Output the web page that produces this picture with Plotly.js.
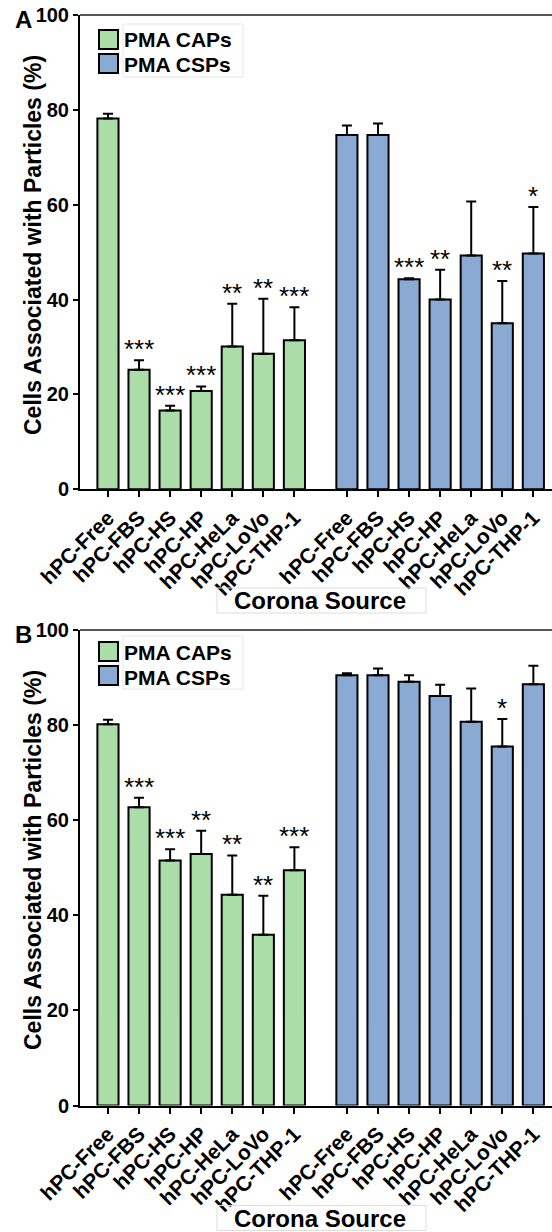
<!DOCTYPE html>
<html><head><meta charset="utf-8">
<script src="https://cdn.plot.ly/plotly-3.0.1.min.js"></script>
<style>html,body{margin:0;padding:0;background:#fff;overflow:hidden}</style>
</head><body><div id="chart" style="width:552px;height:1232px"></div>
<script>
// ---- data ----
const categories = ['hPC-Free','hPC-FBS','hPC-HS','hPC-HP','hPC-HeLa','hPC-LoVo','hPC-THP-1'];
const seriesNames = ['PMA CAPs','PMA CSPs'];
const yTicks = [0,20,40,60,80,100];

const A_caps     = [78.2, 25.2, 16.6, 20.7, 30.1, 28.6, 31.4];
const A_caps_err = [1.0, 2.0, 1.0, 1.0, 9.0, 11.6, 7.0];
const A_caps_sig = ['', '***', '***', '***', '**', '**', '***'];
const A_csps     = [74.7, 74.7, 44.3, 40.0, 49.3, 35.0, 49.7];
const A_csps_err = [2.0, 2.4, 0.2, 6.3, 11.4, 8.9, 9.8];
const A_csps_sig = ['', '', '***', '**', '', '**', '*'];

const B_caps     = [80.2, 62.7, 51.5, 52.9, 44.3, 35.9, 49.5];
const B_caps_err = [0.9, 2.0, 2.4, 4.9, 8.3, 8.2, 4.8];
const B_caps_sig = ['', '***', '***', '**', '**', '**', '***'];
const B_csps     = [90.5, 90.5, 89.1, 86.1, 80.7, 75.5, 88.6];
const B_csps_err = [0.4, 1.4, 1.4, 2.4, 7.0, 5.8, 3.9];
const B_csps_sig = ['', '', '', '', '', '*', ''];

// ---- layout helpers ----
const W = 552, H = 1232;
const px = x => x / W;
const py = y => 1 - y / H;
const FONT = 'Liberation Sans, Arial, Helvetica, sans-serif';
const GREEN = '#aadda8', BLUE = '#8aaad4';
const GAP = 1.69;
const greenX = categories.map((c, i) => i);
const blueX = categories.map((c, i) => i + categories.length - 1 + GAP);
const zeros = categories.map(() => 0);

const panels = [
  {letter: 'A', caps: A_caps, capsErr: A_caps_err, capsSig: A_caps_sig,
   csps: A_csps, cspsErr: A_csps_err, cspsSig: A_csps_sig, top: 15, bottom: 489.3,
   titleY: 245, sourceY: 600.5, legTop: 24},
  {letter: 'B', caps: B_caps, capsErr: B_caps_err, capsSig: B_caps_sig,
   csps: B_csps, cspsErr: B_csps_err, cspsSig: B_csps_sig, top: 630, bottom: 1105.5,
   titleY: 860, sourceY: 1218, legTop: 636}
];

const traces = [], annotations = [], shapes = [];
const layout = {
  width: W, height: H, margin: {l: 0, r: 0, t: 0, b: 0},
  paper_bgcolor: '#fff', plot_bgcolor: '#fff', showlegend: false,
  font: {family: FONT, color: '#000'}, bargap: 0
};

panels.forEach((p, k) => {
  const sfx = k === 0 ? '' : '2';
  const xa = 'x' + sfx, ya = 'y' + sfx;
  const errStyle = {type: 'data', symmetric: false, color: '#000', thickness: 2, width: 5};
  traces.push({type: 'bar', x: greenX, y: p.caps, xaxis: xa, yaxis: ya, width: 0.68,
    name: seriesNames[0], marker: {color: GREEN, line: {color: '#000', width: 2}},
    error_y: Object.assign({array: p.capsErr, arrayminus: zeros}, errStyle)});
  traces.push({type: 'bar', x: blueX, y: p.csps, xaxis: xa, yaxis: ya, width: 0.68,
    name: seriesNames[1], marker: {color: BLUE, line: {color: '#000', width: 2}},
    error_y: Object.assign({array: p.cspsErr, arrayminus: zeros}, errStyle)});

  layout['xaxis' + sfx] = {
    domain: [px(80), 1], anchor: ya, range: [-0.90, 14.29],
    tickvals: greenX.concat(blueX), ticktext: categories.concat(categories),
    tickangle: -45, ticks: 'outside', ticklen: 6, tickwidth: 2, tickcolor: '#000',
    showline: true, linecolor: '#000', linewidth: 2, showgrid: false, zeroline: false,
    tickfont: {family: FONT, size: 21, color: '#000', weight: 'bold'}, fixedrange: true
  };
  layout['yaxis' + sfx] = {
    domain: [py(p.bottom), py(p.top)], anchor: xa, range: [0, 100],
    tickvals: yTicks, ticks: 'outside', ticklen: 5, tickwidth: 2, tickcolor: '#000',
    showline: true, linecolor: '#000', linewidth: 2, showgrid: false, zeroline: false,
    tickfont: {family: FONT, size: 20, color: '#000', weight: 'bold'}, fixedrange: true
  };

  // significance marks
  [[greenX, p.caps, p.capsErr, p.capsSig], [blueX, p.csps, p.cspsErr, p.cspsSig]].forEach(([xs, vs, es, ss]) => {
    ss.forEach((s, i) => {
      if (!s) return;
      annotations.push({xref: xa, yref: ya, x: xs[i], y: vs[i] + es[i], text: s,
        showarrow: false, yanchor: 'bottom', yshift: -6,
        font: {family: FONT, size: 26, color: '#000'}});
    });
  });

  // panel letter
  annotations.push({xref: 'paper', yref: 'paper', x: px(13), y: py(p.top - 11), xanchor: 'left', yanchor: 'top',
    text: p.letter, showarrow: false, font: {family: FONT, size: 24, color: '#000', weight: 'bold'}});
  // y title
  annotations.push({xref: 'paper', yref: 'paper', x: px(33), y: py(p.titleY), xanchor: 'center', yanchor: 'middle',
    textangle: -90, text: 'Cells Associated with Particles (%)', showarrow: false,
    font: {family: FONT, size: 23, color: '#000', weight: 'bold'}});
  // x title box
  shapes.push({type: 'rect', xref: 'paper', yref: 'paper', x0: px(217), x1: px(426),
    y0: py(p.sourceY - 12.5), y1: py(p.sourceY + 12.5), line: {color: '#dddddd', width: 1}});
  annotations.push({xref: 'paper', yref: 'paper', x: px(320), y: py(p.sourceY), xanchor: 'center', yanchor: 'middle',
    text: 'Corona Source', showarrow: false, font: {family: FONT, size: 24, color: '#000', weight: 'bold'}});
  // top frame line
  shapes.push({type: 'line', xref: 'paper', yref: 'paper', x0: px(80), x1: 1, y0: py(p.top), y1: py(p.top),
    line: {color: '#555', width: 2}});
  // legend
  const L = p.legTop;
  shapes.push({type: 'rect', xref: 'paper', yref: 'paper', x0: px(123), x1: px(243),
    y0: py(L), y1: py(L + 53), line: {color: '#e6e6e6', width: 1}});
  [GREEN, BLUE].forEach((c, j) => {
    const t = L + 6 + j * 24;
    shapes.push({type: 'rect', xref: 'paper', yref: 'paper', x0: px(99), x1: px(118),
      y0: py(t), y1: py(t + 19), fillcolor: c, line: {color: '#000', width: 2}});
  });
  // legend labels: first sits above the mid line, second below it, so their boxes do not overlap
  const mid = L + 28.5;
  seriesNames.forEach((n, j) => {
    annotations.push({xref: 'paper', yref: 'paper', x: px(123), y: py(mid), xanchor: 'left',
      yanchor: j === 0 ? 'bottom' : 'top', borderpad: 0,
      text: n, showarrow: false, font: {family: FONT, size: 21, color: '#000', weight: 'bold'}});
  });
});

layout.annotations = annotations;
layout.shapes = shapes;
Plotly.newPlot('chart', traces, layout, {displayModeBar: false, staticPlot: true});
</script></body></html>
